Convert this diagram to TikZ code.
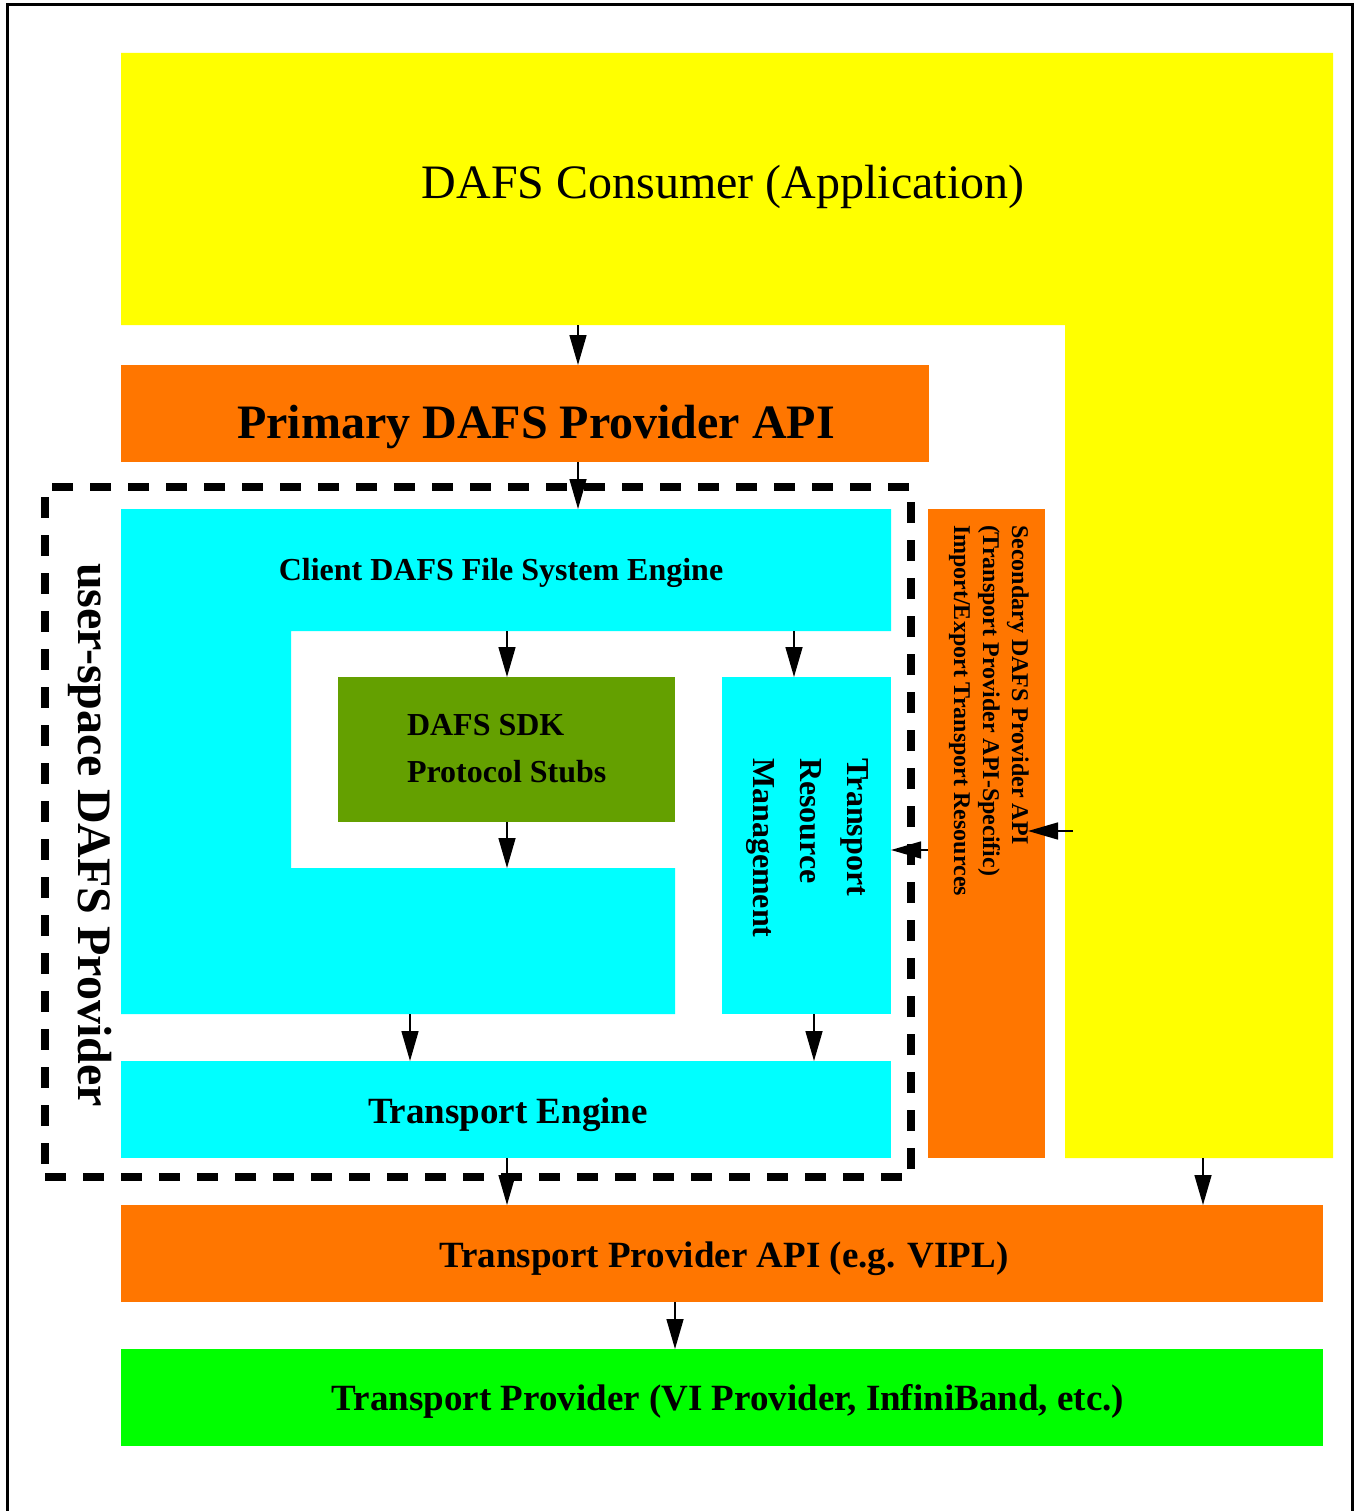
\documentclass[tikz,border=0pt]{standalone}
\usepackage{fontspec}
\setmainfont{Liberation Serif}
\usetikzlibrary{arrows.meta}
\definecolor{cyel}{RGB}{255,255,0}
\definecolor{corg}{RGB}{255,118,0}
\definecolor{ccyan}{RGB}{0,255,255}
\definecolor{cgreen}{RGB}{0,255,0}
\definecolor{colive}{RGB}{100,160,0}
\begin{document}
\begin{tikzpicture}[x=1pt,y=-1pt,
  box/.style={inner sep=0pt, outer sep=0pt, anchor=north west, draw=none},
  arr/.style={-{Triangle[length=30pt,width=17pt]}, line width=1.5pt},
  big/.style={font=\fontsize{48}{56}\selectfont},
  bigb/.style={font=\fontsize{48}{56}\selectfont\bfseries},
  midb/.style={font=\fontsize{37}{44}\selectfont\bfseries},
  smb/.style={font=\fontsize{32}{38}\selectfont\bfseries},
  tinyb/.style={font=\fontsize{24}{29}\selectfont\bfseries},
  txt/.style={inner sep=0pt, outer sep=0pt}]
\useasboundingbox (0,0) rectangle (1359,1511);
% outer frame
\draw[line width=3pt] (7,1511) -- (7,5) -- (1352,5) -- (1352,1511);
% yellow consumer L-shape
\fill[cyel] (121,53) -- (1333,53) -- (1333,1158) -- (1065,1158) -- (1065,325) -- (121,325) -- cycle;
\coordinate (consbot) at (578,325);
\coordinate (consside) at (1203,1158);
\coordinate (consleft) at (1073,831);
\node[txt, big, anchor=base] (constext) at (723,199) {DAFS Consumer (Application)};
% primary
\node[box, fill=corg, minimum width=808pt, minimum height=97pt] (primary) at (121,365) {};
\node[txt, bigb, anchor=base] (primarytext) at (536,438) {Primary DAFS Provider API};
% client engine (cyan shape)
\fill[ccyan] (121,509) -- (891,509) -- (891,631) -- (291,631) -- (291,868) -- (675,868) -- (675,1014) -- (121,1014) -- cycle;
\coordinate (clienttop) at (578,509);
\coordinate (clientsdk) at (507,631);
\coordinate (clienttrm) at (794,631);
\coordinate (clientin) at (507,868);
\coordinate (clientbot) at (410,1014);
\node[txt, smb, anchor=base] (clienttext) at (501,580) {Client DAFS File System Engine};
% SDK
\node[box, fill=colive, minimum width=337pt, minimum height=145pt] (sdk) at (338,677) {};
\node[txt, smb, anchor=base west] (sdk1) at (407,735) {DAFS SDK};
\node[txt, smb, anchor=base west] (sdk2) at (407,782) {Protocol Stubs};
% transport resource management
\node[box, fill=ccyan, minimum width=169pt, minimum height=337pt] (trm) at (722,677) {};
\node[txt, smb, anchor=base west, rotate=-90] (trm1) at (847,758) {Transport};
\node[txt, smb, anchor=base west, rotate=-90] (trm2) at (800,758) {Resource};
\node[txt, smb, anchor=base west, rotate=-90] (trm3) at (753,758) {Management};
% transport engine
\node[box, fill=ccyan, minimum width=770pt, minimum height=97pt] (te) at (121,1061) {};
\node[txt, midb, anchor=base] (tetext) at (508,1123) {Transport Engine};
% secondary
\node[box, fill=corg, minimum width=117pt, minimum height=649pt] (sec) at (928,509) {};
\coordinate (secin) at (1028,831);
\node[txt, tinyb, anchor=base west, rotate=-90] (sec1) at (1012,525) {Secondary DAFS Provider API};
\node[txt, tinyb, anchor=base west, rotate=-90] (sec2) at (983,525) {(Transport Provider API-Specific)};
\node[txt, tinyb, anchor=base west, rotate=-90] (sec3) at (954,525) {Import/Export Transport Resources};
% dashed user-space box
\node[box, draw=black, line width=8pt, dash pattern=on 21pt off 17pt, minimum width=866pt, minimum height=690pt] (usp) at (45,487) {};
\node[txt, bigb, anchor=base west, rotate=-90] (usptext) at (78,563) {user-space DAFS Provider};
% transport provider API
\node[box, fill=corg, minimum width=1202pt, minimum height=97pt] (tpa) at (121,1205) {};
\node[txt, midb, anchor=base] (tpatext) at (724,1267) {Transport Provider API (e.g. VIPL)};
% transport provider
\node[box, fill=cgreen, minimum width=1202pt, minimum height=97pt] (tp) at (121,1349) {};
\node[txt, midb, anchor=base] (tptext) at (728,1410) {Transport Provider (VI Provider, InfiniBand, etc.)};
% arrows
\draw[arr] (consbot) -- (primary.north -| consbot);
\draw[arr] (primary.south -| clienttop) -- (clienttop);
\draw[arr] (clientsdk) -- (sdk.north -| clientsdk);
\draw[arr] (clienttrm) -- (trm.north -| clienttrm);
\draw[arr] (sdk.south -| clientin) -- (clientin);
\draw[arr] (clientbot) -- (te.north -| clientbot);
\draw[arr] (trm.south -| 814,0) -- (te.north -| 814,0);
\draw[arr] (te.south -| clientsdk) -- (tpa.north -| clientsdk);
\draw[arr] (consside) -- (tpa.north -| consside);
\draw[arr] (tpa.south -| 675,0) -- (tp.north -| 675,0);
\draw[arr] (consleft) -- (secin);
\draw[arr] (sec.west |- 0,850) -- (trm.east |- 0,850);
\end{tikzpicture}
\end{document}
